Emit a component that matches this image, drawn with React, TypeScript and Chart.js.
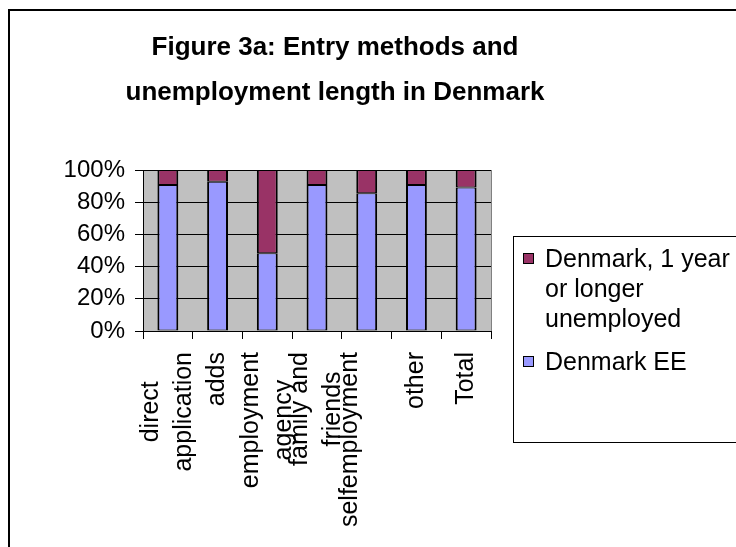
import { useEffect, useRef } from "react";
import { Chart, registerables } from "chart.js";

Chart.register(...registerables);

const TITLE_LINES = ["Figure 3a: Entry methods and", "unemployment length in Denmark"];

// Entry method categories (each inner array is one wrapped label)
const CATEGORIES = [
  ["direct", "application"],
  ["adds"],
  ["employment", "agency"],
  ["family and", "friends"],
  ["selfemployment", ""],
  ["other"],
  ["Total"],
];

// Share of each entry method, percent
const EE_SHARE = [90.7, 92.7, 48.3, 90.7, 85.5, 90.7, 89.2];
const LONG_TERM_SHARE = [9.3, 7.3, 51.7, 9.3, 14.5, 9.3, 10.8];

// Series labels, already wrapped the way the legend shows them
const EE_LABEL = ["Denmark EE"];
const LONG_TERM_LABEL = ["Denmark, 1 year", "or longer", "unemployed"];

const Y_MAX = 100;
const Y_STEP = 20;

const FONT = '"Liberation Sans", Arial, Helvetica, sans-serif';
const EE_COLOR = "#9999FF";
const LONG_TERM_COLOR = "#993366";
const PLOT_BG = "#C0C0C0";
// thin top/bottom so the seam between stacked segments stays a single line
const BAR_BORDER = { top: 1, bottom: 1, left: 2, right: 2 };

const decorations = {
  id: "decorations",
  beforeDraw(chart: any) {
    const { ctx, chartArea: a, width, height } = chart;
    ctx.save();
    ctx.fillStyle = "#ffffff";
    ctx.fillRect(0, 0, width, height);
    // outer chart frame
    ctx.strokeStyle = "#000";
    ctx.lineWidth = 2;
    ctx.strokeRect(9, 10, width + 40, height + 40);
    // plot area
    ctx.fillStyle = PLOT_BG;
    ctx.fillRect(a.left, a.top, a.right - a.left, a.bottom - a.top);
    ctx.strokeStyle = "#808080";
    ctx.lineWidth = 1;
    ctx.beginPath();
    ctx.moveTo(a.right + 0.5, a.top);
    ctx.lineTo(a.right + 0.5, a.bottom);
    ctx.stroke();
    ctx.restore();
  },
  afterDraw(chart: any) {
    const { ctx, chartArea: a } = chart;
    ctx.save();
    ctx.fillStyle = "#000";

    // title
    ctx.font = `bold 26px ${FONT}`;
    ctx.textAlign = "center";
    ctx.textBaseline = "middle";
    ctx.fillText(TITLE_LINES[0], 335, 48);
    ctx.fillText(TITLE_LINES[1], 335, 93);

    // rotated category labels
    const xScale = chart.scales.x;
    ctx.font = `25px ${FONT}`;
    const labels: string[][] = chart.data.labels;
    const lineGap = 33;
    const top = a.bottom + 21;
    labels.forEach((lines, i) => {
      const cx = xScale.getPixelForValue(i);
      const maxW = Math.max(...lines.map((l) => ctx.measureText(l).width));
      lines.forEach((line, j) => {
        if (!line) return;
        const x = cx + (j - (lines.length - 1) / 2) * lineGap;
        ctx.save();
        ctx.translate(x, top + maxW / 2);
        ctx.rotate(-Math.PI / 2);
        ctx.textAlign = "center";
        ctx.textBaseline = "middle";
        ctx.fillText(line, 0, 0);
        ctx.restore();
      });
    });

    // legend
    ctx.strokeStyle = "#000";
    ctx.lineWidth = 1;
    ctx.strokeRect(513.5, 236.5, 400, 206);
    ctx.font = `25px ${FONT}`;
    ctx.textAlign = "left";
    ctx.textBaseline = "alphabetic";
    const entries = [
      { lines: LONG_TERM_LABEL, color: chart.data.datasets[1].backgroundColor, baseline: 267 },
      { lines: EE_LABEL, color: chart.data.datasets[0].backgroundColor, baseline: 370 },
    ];
    entries.forEach((e) => {
      ctx.fillStyle = e.color;
      ctx.fillRect(523, e.baseline - 14, 10, 10);
      ctx.strokeRect(523.5, e.baseline - 13.5, 10, 10);
      ctx.fillStyle = "#000";
      e.lines.forEach((line, j) => ctx.fillText(line, 545, e.baseline + j * 30));
    });
    ctx.restore();
  },
};

export default function App() {
  const canvasRef = useRef<HTMLCanvasElement | null>(null);

  useEffect(() => {
    if (!canvasRef.current) return;
    const chart = new Chart(canvasRef.current, {
      type: "bar",
      data: {
        labels: CATEGORIES as any,
        datasets: [
          {
            label: EE_LABEL.join(" "),
            data: EE_SHARE,
            backgroundColor: EE_COLOR,
            borderColor: "#000",
            borderWidth: BAR_BORDER,
            borderSkipped: false,
            barPercentage: 0.42,
            categoryPercentage: 1,
          },
          {
            label: LONG_TERM_LABEL.join(" "),
            data: LONG_TERM_SHARE,
            backgroundColor: LONG_TERM_COLOR,
            borderColor: "#000",
            borderWidth: BAR_BORDER,
            borderSkipped: false,
            barPercentage: 0.42,
            categoryPercentage: 1,
          },
        ],
      },
      options: {
        animation: false,
        responsive: true,
        maintainAspectRatio: false,
        layout: { padding: { left: 0, top: 170, right: 245, bottom: 0 } },
        plugins: {
          legend: { display: false },
          title: { display: false },
          tooltip: { enabled: false },
        },
        scales: {
          x: {
            stacked: true,
            grid: {
              offset: true,
              drawOnChartArea: false,
              drawTicks: true,
              tickLength: 8,
              color: "#000",
            },
            border: { color: "#000", width: 1 },
            ticks: { display: false },
            afterFit: (scale: any) => {
              scale.height = 216;
            },
          },
          y: {
            stacked: true,
            min: 0,
            max: Y_MAX,
            grid: { color: "#000", tickLength: 8, lineWidth: 1 },
            border: { color: "#000", width: 1 },
            ticks: {
              stepSize: Y_STEP,
              padding: 10,
              color: "#000",
              font: { family: FONT, size: 24 },
              callback: (v: any) => `${v}%`,
            },
            afterFit: (scale: any) => {
              scale.width = 143;
            },
          },
        },
      },
      plugins: [decorations],
    });
    return () => chart.destroy();
  }, []);

  return (
    <div style={{ position: "fixed", left: 0, top: 0, width: 736, height: 547 }}>
      <canvas ref={canvasRef} />
    </div>
  );
}
